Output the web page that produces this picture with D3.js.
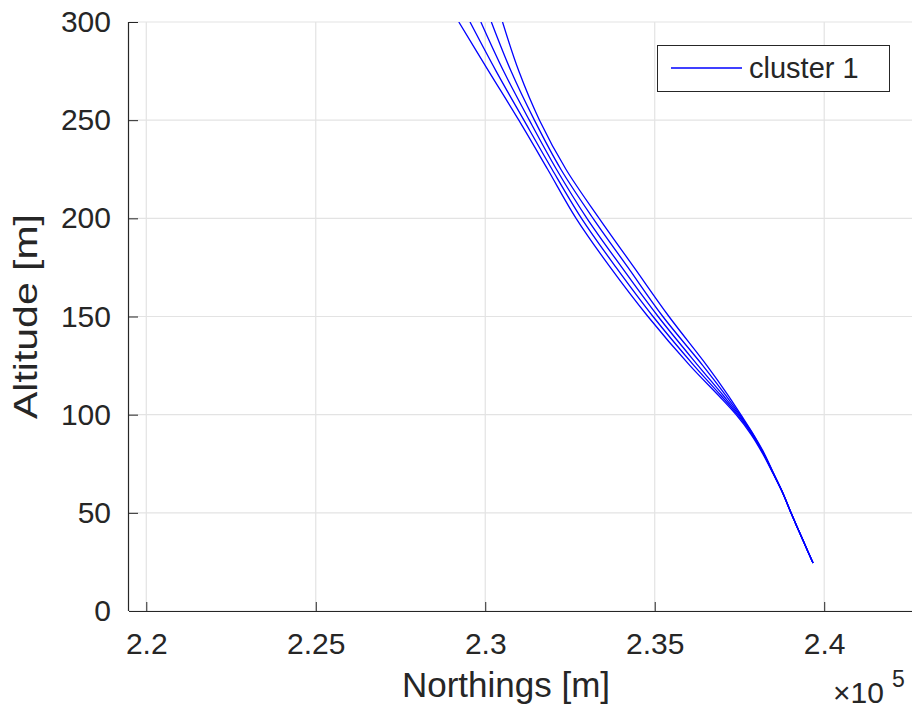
<!DOCTYPE html>
<html><head><meta charset="utf-8">
<script src="https://cdn.jsdelivr.net/npm/d3@7"></script>
<style>body{margin:0;background:#fff}svg{display:block}text{font-family:"Liberation Sans",Arial,sans-serif;fill:#262626}</style>
</head><body><svg id="c" width="914" height="711"></svg>
<script>
// Data (Northings in metres, altitude in metres)
const altitudes = [300,275,250,225,200,175,150,125,110,100,90,80,70,60,50,42.8,35,24.4];
const line1 = [229220,230100,230990,231840,232680,233690,234800,236040,236870,237400,237840,238190,238490,238780,239020,239200,239400,239670];
const line2 = [229550,230320,231140,231970,232840,233860,234950,236160,236940,237440,237870,238210,238500,238780,239020,239200,239400,239670];
const line3 = [229870,230540,231300,232100,233000,234030,235100,236280,237010,237480,237880,238220,238500,238780,239020,239200,239400,239670];
const line4 = [230180,230760,231450,232230,233180,234210,235240,236420,237090,237510,237900,238220,238505,238780,239020,239200,239400,239670];
const line5 = [230510,230990,231600,232380,233360,234390,235420,236540,237160,237540,237910,238240,238510,238785,239020,239200,239400,239670];
const seriesList = [line1,line2,line3,line4,line5];
const xTicks = [220000,225000,230000,235000,240000];
const xTickLabels = ["2.2","2.25","2.3","2.35","2.4"];
const yTicks = [0,50,100,150,200,250,300];
const xDomain = [219490, 242590];
const yDomain = [0, 300];
const legendLabel = "cluster 1";

const svg = d3.select("#c");
const L=129, R=912, T=22, B=611;
const x = d3.scaleLinear().domain(xDomain).range([L,R]);
const y = d3.scaleLinear().domain(yDomain).range([B,T]);

// grid
const grid = svg.append("g").attr("stroke","#e3e3e3").attr("stroke-width",1.2);
grid.selectAll(".gx").data(xTicks).join("line")
  .attr("x1",d=>x(d)).attr("x2",d=>x(d)).attr("y1",T).attr("y2",B);
grid.selectAll(".gy").data(yTicks).join("line")
  .attr("x1",L).attr("x2",R).attr("y1",d=>y(d)).attr("y2",d=>y(d));

// clip
svg.append("clipPath").attr("id","clip").append("rect").attr("x",L).attr("y",T).attr("width",R-L).attr("height",B-T);

const lineGen = d3.line().x(d=>x(d[0])).y(d=>y(d[1])).curve(d3.curveCatmullRom.alpha(0.5));
svg.append("g").attr("clip-path","url(#clip)").selectAll("path").data(seriesList).join("path")
  .attr("d",s=>lineGen(s.map((v,i)=>[v,altitudes[i]])))
  .attr("fill","none").attr("stroke","#0000ff").attr("stroke-width",1.3);

// axes
const xAxis = d3.axisBottom(x).tickValues(xTicks).tickFormat((d,i)=>xTickLabels[i]).tickSizeInner(-9).tickSizeOuter(0).tickPadding(22);
const gx = svg.append("g").attr("transform",`translate(0,${B})`).call(xAxis);
gx.select(".domain").attr("stroke","#262626").attr("stroke-width",1.2).attr("d",`M${L},0.5H${R}`);
gx.selectAll(".tick line").attr("stroke","#262626");
gx.selectAll("text").attr("font-size",30).attr("fill","#262626").attr("font-family","Liberation Sans, Arial, sans-serif");

const yAxis = d3.axisLeft(y).tickValues(yTicks).tickSizeInner(-9).tickSizeOuter(0).tickPadding(18);
const gy = svg.append("g").attr("transform",`translate(${L},0)`).call(yAxis);
gy.select(".domain").attr("stroke","#262626").attr("stroke-width",1.2).attr("d",`M-0.5,${T}V${B}`);
gy.selectAll(".tick line").attr("stroke","#262626");
gy.selectAll("text").attr("font-size",30).attr("fill","#262626").attr("font-family","Liberation Sans, Arial, sans-serif");

// labels
svg.append("text").attr("x",506).attr("y",697).attr("text-anchor","middle").attr("font-size",35).text("Northings [m]");
svg.append("text").attr("transform",`translate(37,${(T+B)/2}) rotate(-90)`).attr("text-anchor","middle").attr("font-size",34)
  .attr("textLength",205).attr("lengthAdjust","spacingAndGlyphs").text("Altitude [m]");
const ex = svg.append("text").attr("x",833).attr("y",703).attr("font-size",30);
ex.append("tspan").text("×10");
ex.append("tspan").attr("dx",8).attr("dy",-16).attr("font-size",23).text("5");

// legend
const lg = svg.append("g");
lg.append("rect").attr("x",657.5).attr("y",45.5).attr("width",232).attr("height",46).attr("fill","#fff").attr("stroke","#262626").attr("stroke-width",1);
lg.append("line").attr("x1",671).attr("x2",742).attr("y1",68).attr("y2",68).attr("stroke","#0000ff").attr("stroke-width",1.3);
lg.append("text").attr("x",749).attr("y",78).attr("font-size",29).attr("fill","#000").text(legendLabel);
</script></body></html>
